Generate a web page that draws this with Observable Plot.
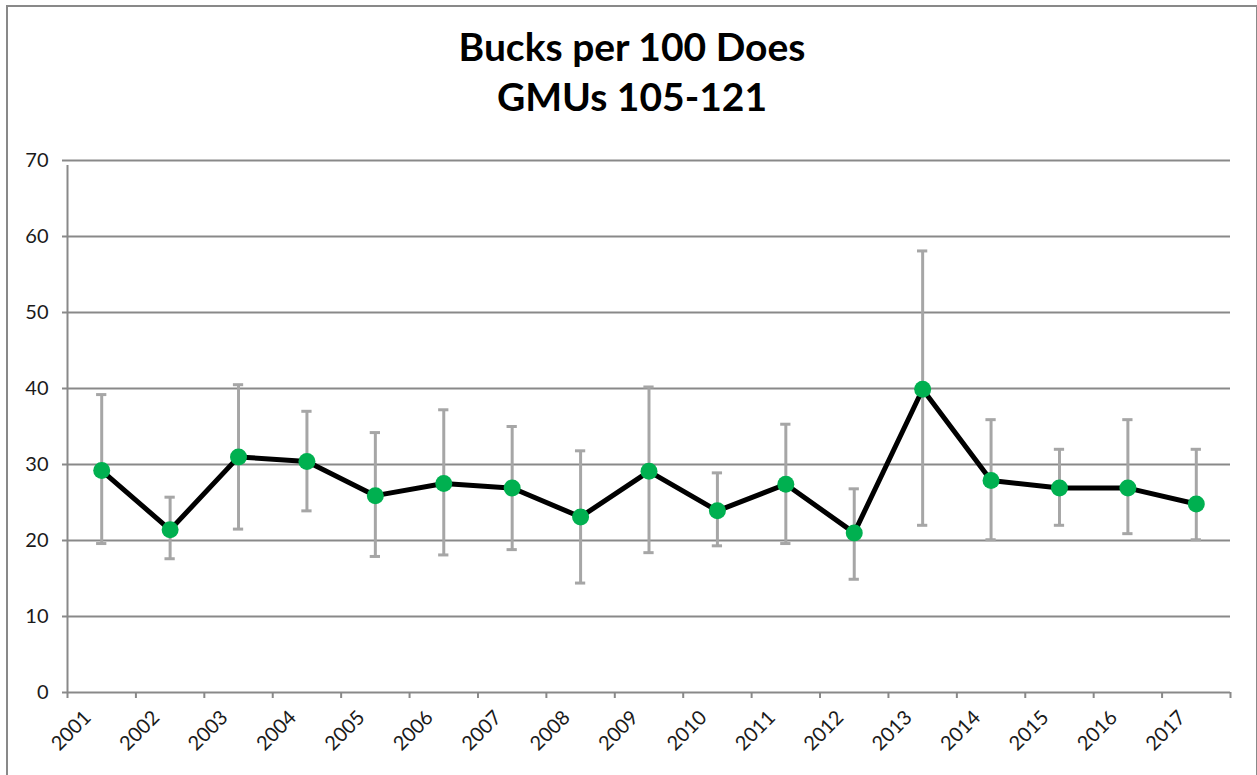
<!DOCTYPE html>
<html>
<head>
<meta charset="utf-8">
<script src="https://cdn.jsdelivr.net/npm/d3@7"></script>
<script src="https://cdn.jsdelivr.net/npm/@observablehq/plot@0.6"></script>
<style>
  html, body { margin: 0; padding: 0; background: #fff; }
  #wrap { position: relative; width: 1257px; height: 775px; overflow: hidden; }
  #frame { position: absolute; left: 6px; top: 5px; width: 1248px; height: 800px; border: 2px solid #898989; box-sizing: content-box; pointer-events: none; }
  #title { width: 1264px; height: 130px; box-sizing: border-box; padding-top: 21px; text-align: center; font-family: Lato, "Open Sans", sans-serif; font-weight: bold; font-size: 39px; line-height: 50px; color: #000; }
  #chart svg { display: block; }
  #chart svg text { font-size: 20px; font-family: Lato, "Open Sans", sans-serif; }
</style>
</head>
<body>
<div id="wrap">
  <div id="frame"></div>
  <div id="title">Bucks per 100 Does<br>GMUs 105-121</div>
  <div id="chart"></div>
</div>
<script>
const years = [2001, 2002, 2003, 2004, 2005, 2006, 2007, 2008, 2009, 2010, 2011, 2012, 2013, 2014, 2015, 2016, 2017];
const values = [29.2, 21.4, 31.0, 30.4, 25.9, 27.5, 26.9, 23.1, 29.1, 23.9, 27.4, 21.0, 39.9, 27.9, 26.9, 26.9, 24.8];
const upper = [39.2, 25.7, 40.5, 37.0, 34.2, 37.2, 35.0, 31.8, 40.2, 28.9, 35.3, 26.8, 58.1, 35.9, 32.0, 35.9, 32.0];
const lower = [19.6, 17.6, 21.5, 23.9, 17.9, 18.1, 18.8, 14.4, 18.4, 19.3, 19.6, 14.9, 22.0, 20.1, 22.0, 20.9, 20.1];
const yTicks = [0, 10, 20, 30, 40, 50, 60, 70];

const data = years.map((year, i) => ({year, value: values[i], hi: upper[i], lo: lower[i]}));
const boundaries = [years[0] - 0.5, ...years.map(y => y + 0.5)];

const axisGray = "#898989";
const errGray = "#a6a6a6";
const capHalf = 0.075;

const chart = Plot.plot({
  width: 1257,
  height: 645,
  marginTop: 30,
  marginBottom: 83,
  marginLeft: 67,
  marginRight: 27,
  x: {domain: [years[0] - 0.5, years[years.length - 1] + 0.5]},
  y: {domain: [0, 70]},
  style: {fontFamily: "Lato, 'Open Sans', sans-serif", fontSize: "20px", color: "#1a1a1a", background: "transparent"},
  marks: [
    Plot.gridY(yTicks, {stroke: axisGray, strokeOpacity: 1, strokeWidth: 2}),
    Plot.axisY(yTicks, {tickSize: 5, tickPadding: 14, stroke: axisGray, strokeWidth: 2, label: null, fontSize: 20}),
    Plot.ruleX([boundaries[0]], {y1: 0, y2: 70, stroke: axisGray, strokeWidth: 2, insetBottom: -5}),
    Plot.axisX(boundaries, {tickSize: 6, tickFormat: () => "", stroke: axisGray, strokeWidth: 2, label: null}),
    Plot.axisX(years, {tickSize: 0, tickRotate: -45, tickFormat: d => String(d), label: null, fontSize: 20, dx: -14, dy: 10}),
    Plot.ruleX(data, {x: "year", y1: "lo", y2: "hi", stroke: errGray, strokeWidth: 3}),
    Plot.ruleY(data, {y: "hi", x1: d => d.year - capHalf, x2: d => d.year + capHalf, stroke: errGray, strokeWidth: 3}),
    Plot.ruleY(data, {y: "lo", x1: d => d.year - capHalf, x2: d => d.year + capHalf, stroke: errGray, strokeWidth: 3}),
    Plot.line(data, {x: "year", y: "value", stroke: "#000", strokeWidth: 5, strokeLinejoin: "round"}),
    Plot.dot(data, {x: "year", y: "value", r: 8.5, fill: "#00b050", stroke: "none"})
  ]
});
document.getElementById("chart").appendChild(chart);
</script>
</body>
</html>
